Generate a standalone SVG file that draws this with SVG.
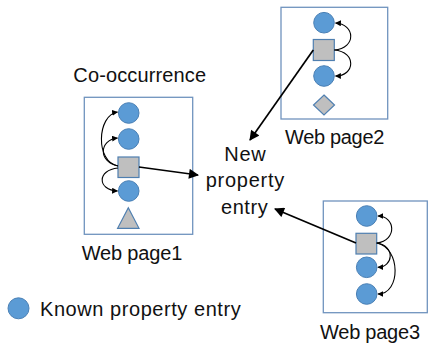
<svg xmlns="http://www.w3.org/2000/svg" width="428" height="345" viewBox="0 0 428 345">
<defs>
<style>
.box{fill:#fff;stroke:#7093BE;stroke-width:1.3}
.known{fill:#5B9BD5;stroke:#4A80B5;stroke-width:1}
.shape{fill:#BFBFBF;stroke:#4F7FB0;stroke-width:1.2}
.lbl{font-family:"Liberation Sans",Arial,sans-serif;font-size:20px;fill:#111}
.curve{fill:none;stroke:#000;stroke-width:1.1;marker-end:url(#sm)}
.main{fill:none;stroke:#000;stroke-width:1.7;marker-end:url(#big)}
</style>
<marker id="sm" viewBox="0 0 10 10" refX="9" refY="5" markerWidth="6" markerHeight="6" markerUnits="userSpaceOnUse" orient="auto"><path d="M0,0 L10,5 L0,10 z" fill="#000"/></marker>
<marker id="big" viewBox="0 0 10 10" refX="9" refY="5" markerWidth="11" markerHeight="10" markerUnits="userSpaceOnUse" orient="auto"><path d="M0,0 L10,5 L0,10 z" fill="#000"/></marker>
</defs>

<g id="page1">
<rect class="box" x="84.3" y="97.3" width="108.4" height="137"/>
<circle class="known" cx="128.7" cy="113" r="10.3"/>
<circle class="known" cx="128.7" cy="139" r="10.3"/>
<rect class="shape" x="118" y="157" width="21" height="20.5"/>
<circle class="known" cx="128.7" cy="191" r="10.3"/>
<polygon class="shape" points="128.3,207.7 139,228.3 117.6,228.3"/>
<text class="lbl" x="81.7" y="260" textLength="100.6">Web page1</text>
</g>

<g id="page2">
<rect class="box" x="281" y="7.3" width="106.7" height="111.7"/>
<circle class="known" cx="324" cy="22.7" r="10.3"/>
<rect class="shape" x="313.3" y="39.5" width="21" height="21"/>
<circle class="known" cx="324" cy="76" r="10.3"/>
<polygon class="shape" points="324,95 334.5,105 324,115 313.5,105"/>
<text class="lbl" x="285" y="144" textLength="99.3">Web page2</text>
</g>

<g id="page3">
<rect class="box" x="323.3" y="201" width="104" height="111.7"/>
<circle class="known" cx="366.7" cy="216" r="10.3"/>
<rect class="shape" x="356" y="233.3" width="20.7" height="20.7"/>
<circle class="known" cx="366.7" cy="267.3" r="10.3"/>
<circle class="known" cx="366.7" cy="294" r="10.3"/>
<text class="lbl" x="320" y="339" textLength="100">Web page3</text>
</g>

<g id="cooccurrence">
<text class="lbl" x="73.3" y="82" textLength="132.7">Co-occurrence</text>
</g>

<g id="new-entry">
<text class="lbl" x="224.3" y="160.7" textLength="41.4">New</text>
<text class="lbl" x="205.7" y="186.7" textLength="78.6">property</text>
<text class="lbl" x="221" y="214" textLength="46.7">entry</text>
</g>

<g id="legend">
<circle class="known" cx="18.5" cy="308.3" r="10.5"/>
<text class="lbl" x="40" y="316" textLength="200.7">Known property entry</text>
</g>

<g id="connectors">
<path class="curve" d="M118,166 C95,162 97,115 117.5,112"/>
<path class="curve" d="M118,166 C98,162 99,140 117.5,138"/>
<path class="curve" d="M118,168 C97,170 97,190 117.5,191"/>
<path class="curve" d="M334.3,50 C357,48 355,24 335.5,23"/>
<path class="curve" d="M334.3,50 C357,52 355,76 335.5,76"/>
<path class="curve" d="M376.7,243 C398,240 395,216 378,216"/>
<path class="curve" d="M376.7,243 C396,246 393,267 378,267.3"/>
<path class="curve" d="M376.7,243 C401,248 401,294 378,294"/>
<path class="main" d="M139,167 L198,175"/>
<path class="main" d="M313.3,50 L250,140"/>
<path class="main" d="M356,243 L275,209"/>
</g>
</svg>
